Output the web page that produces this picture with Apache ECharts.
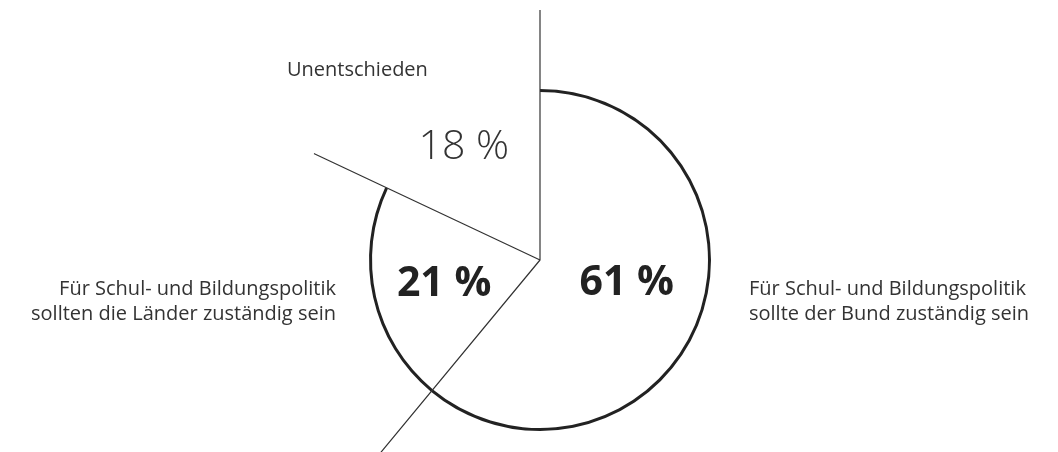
<!DOCTYPE html>
<html>
<head>
<meta charset="utf-8">
<script src="https://cdn.jsdelivr.net/npm/echarts@6/dist/echarts.min.js"></script>
<style>html,body{margin:0;padding:0;background:#fff}#c{width:1058px;height:452px}</style>
</head>
<body>
<div id="c"></div>
<script>
const categories = [
  'Für Schul- und Bildungspolitik\nsollte der Bund zuständig sein',
  'Für Schul- und Bildungspolitik\nsollten die Länder zuständig sein',
  'Unentschieden'
];
const values = [61, 21, 18];
const percentLabels = ['61 %', '21 %', '18 %'];

// cumulative boundaries of the slices (percent of full circle)
const bounds = [];
let acc = 0;
values.forEach(v => { bounds.push(acc); acc += v; });

const CX = 540, CY = 260;
const FONT = '"Open Sans", "Noto Sans", sans-serif';

const chart = echarts.init(document.getElementById('c'), null, {renderer: 'canvas'});

// radial line path built from slice boundaries: outer -> center -> outer ...
const rayData = [];
bounds.forEach((b, i) => {
  if (i > 0) rayData.push([0, b]);
  rayData.push([1, b]);
});

chart.setOption({
  animation: false,
  backgroundColor: '#fff',
  polar: {center: [CX, CY], radius: 250},
  angleAxis: {type: 'value', min: 0, max: 100, startAngle: 90, clockwise: true, show: false},
  radiusAxis: {type: 'value', min: 0, max: 1, show: false},
  series: [
    {
      // outer arc (ring) for drawn slices
      type: 'pie', center: [CX, CY], radius: [168, 171], startAngle: 90, clockwise: true,
      silent: true, label: {show: false}, labelLine: {show: false},
      data: values.map((v, i) => ({value: v, name: categories[i],
        itemStyle: {color: i < 2 ? '#222' : 'rgba(0,0,0,0)'}}))
    },
    {
      // transparent pie carrying the percentage labels
      type: 'pie', center: [CX, CY], radius: [0, 170], startAngle: 90, clockwise: true,
      silent: true, labelLine: {show: false},
      itemStyle: {color: 'rgba(0,0,0,0)'},
      data: values.map((v, i) => ({
        value: v, name: categories[i],
        label: {
          show: true, position: 'inside', formatter: percentLabels[i],
          fontFamily: FONT, fontSize: 41, color: i < 2 ? '#222' : '#333',
          fontWeight: i < 2 ? 'bold' : 300,
          offset: i === 0 ? [4, -6] : i === 1 ? [-10, 5] : [-29, -38]
        }
      }))
    },
    {
      type: 'line', coordinateSystem: 'polar', data: rayData,
      symbol: 'none', silent: true,
      lineStyle: {color: '#333', width: 1.2}
    }
  ],
  graphic: [
    {type: 'text', left: 749, top: 277, style: {text: categories[0], font: '20px ' + FONT, fill: '#333', lineHeight: 25, textAlign: 'left'}},
    {type: 'text', right: 1058 - 336, top: 277, style: {text: categories[1], font: '20px ' + FONT, fill: '#333', lineHeight: 25, textAlign: 'right'}},
    {type: 'text', left: 287, top: 60, style: {text: categories[2], font: '20px ' + FONT, fill: '#333'}}
  ]
});
</script>
</body>
</html>
